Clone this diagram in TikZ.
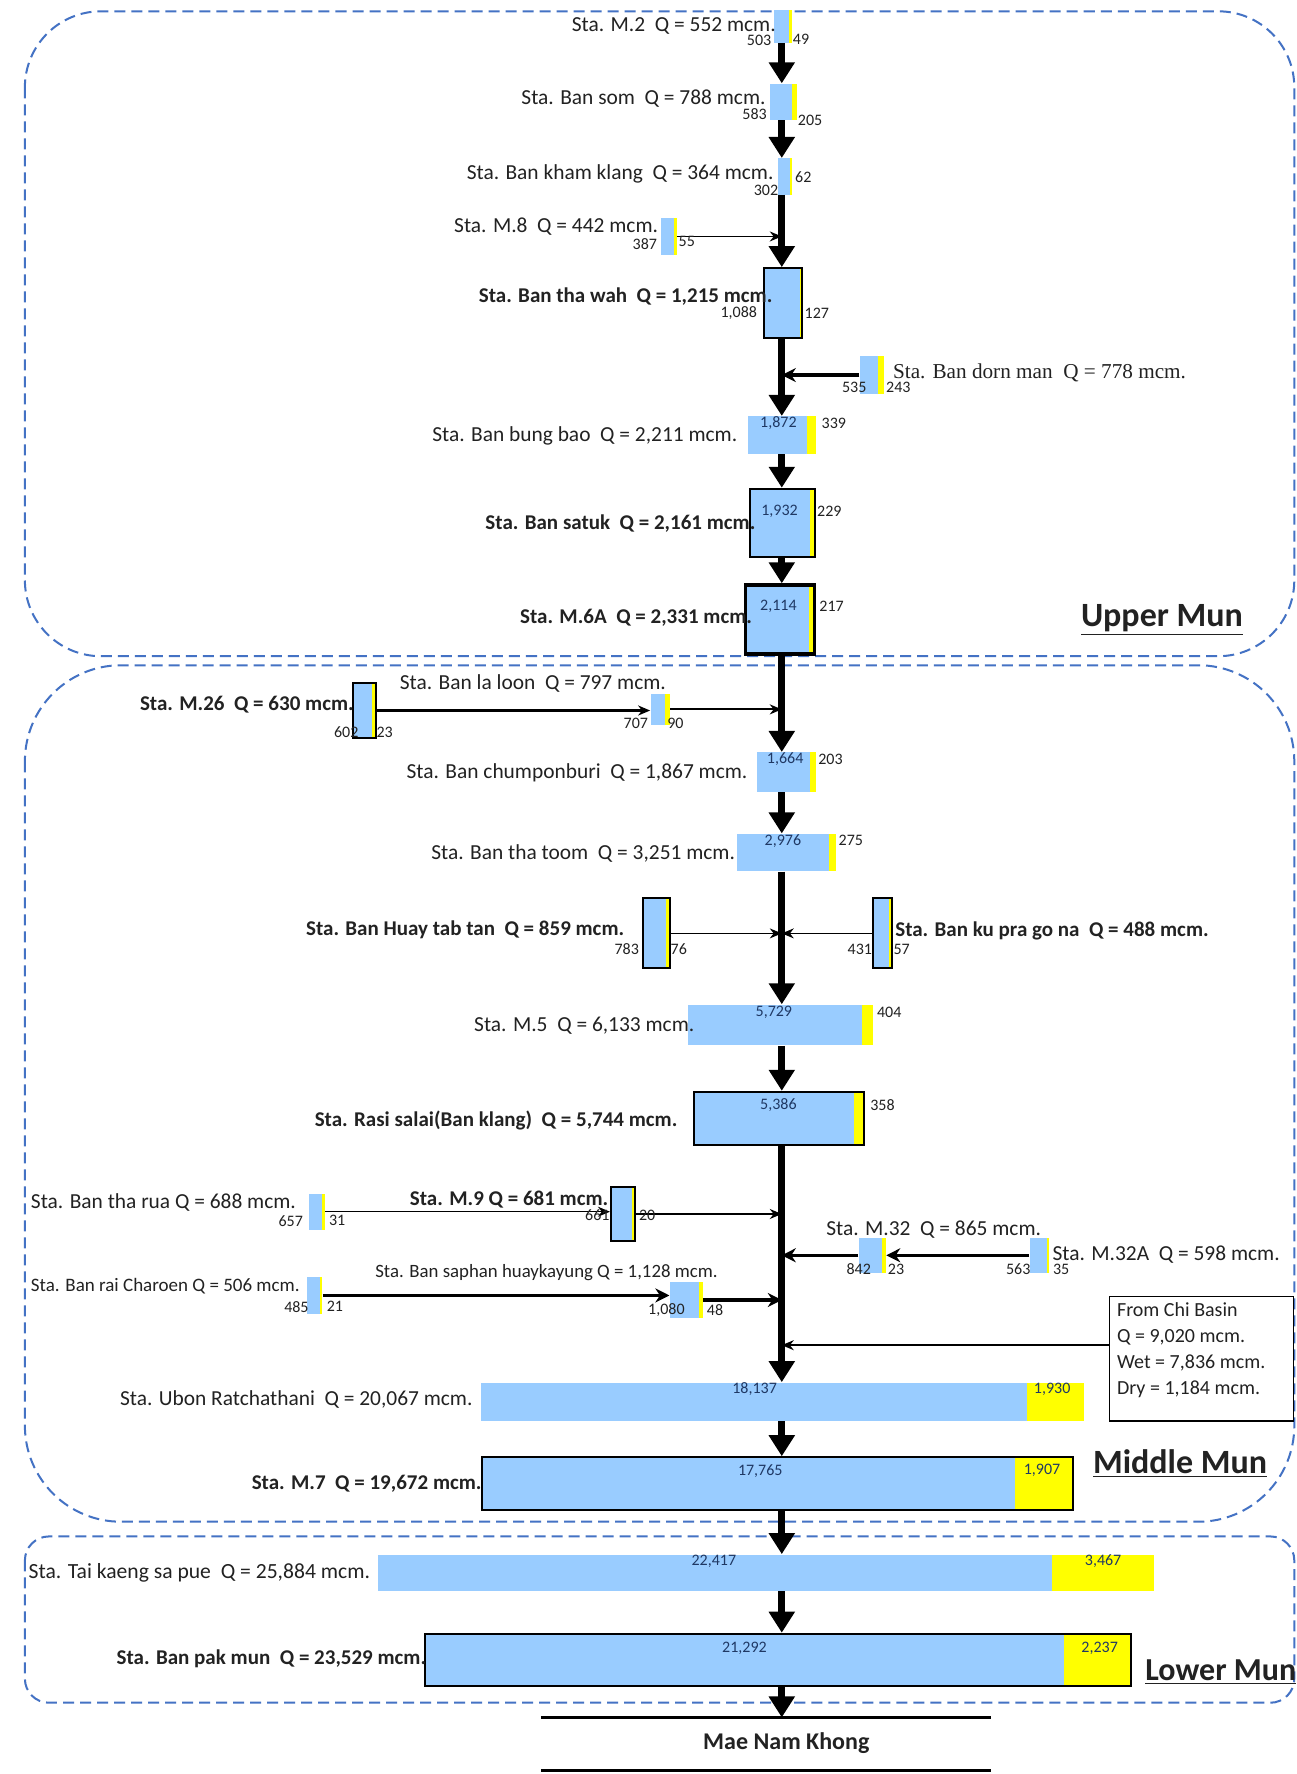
\documentclass[tikz,border=0pt]{standalone}
\usepackage{fontspec}
\setmainfont{Carlito}
\newfontfamily\serifT{Liberation Serif}
\usetikzlibrary{fit,arrows.meta}
\definecolor{bluef}{HTML}{99CCFF}
\definecolor{yellowf}{HTML}{FFFF00}
\definecolor{regblue}{HTML}{4472C4}
\definecolor{txt}{HTML}{222222}
\definecolor{innum}{HTML}{1F3864}
\tikzset{
 bfill/.style={fill=bluef},
 yfill/.style={fill=yellowf},
 spinearr/.style={line width=3.6pt,-{Triangle[width=12.5pt,length=10.5pt]}},
 thinarr/.style={line width=0.7pt,-{Stealth[width=5pt,length=6pt]}},
 medarr/.style={line width=1.6pt,-{Stealth[width=7pt,length=7pt]}},
 region/.style={draw=regblue,dash pattern=on 5.5pt off 3pt,line width=1pt},
 lab/.style={font=\fontsize{10.7}{12}\selectfont,inner sep=0pt,text=txt},
 blab/.style={font=\fontsize{10.5}{12}\selectfont\bfseries,inner sep=0pt,text=txt},
 slab/.style={font=\fontsize{10.6}{12}\selectfont\serifT,inner sep=0pt,text=txt},
 num/.style={font=\fontsize{8}{9}\selectfont,inner sep=0pt,text=txt},
 inum/.style={font=\fontsize{8}{9}\selectfont,inner sep=0pt,text=innum},
 bord/.style={draw=black,line width=1pt},
 tbord/.style={draw=black,line width=1.6pt},
 noborder/.style={},
 regtitle/.style={font=\fontsize{17}{20}\selectfont\bfseries,inner sep=0pt,text=txt},
}
% name, x blue, x yellow, x end, y top, y bottom, style
\newcommand\mkstn[7]{%
 \fill[bfill] (#2,#5) rectangle (#3,#6);
 \fill[yfill] (#3,#5) rectangle (#4,#6);
 \node[fit={(#2,#5)(#4,#6)},inner sep=0pt,#7] (#1) {};
}
\begin{document}
\begin{tikzpicture}[x=0.5655pt,y=-0.5655pt]
\useasboundingbox (0,0) rectangle (1146,1568);
\fill[white] (0,0) rectangle (1146,1568);
\coordinate (sp) at (691,0);

% regions
\draw[region,rounded corners=38pt] (22,10) rectangle (1144,580);
\draw[region,rounded corners=48pt] (22,588) rectangle (1144,1345);
\draw[region,rounded corners=12pt] (22,1358) rectangle (1144,1505);
\node[regtitle] (tUpper) at (1027,548) {\underline{Upper Mun}};
\node[regtitle] (tMiddle) at (1043,1294) {\underline{Middle Mun}};
\node[regtitle,anchor=west,font=\fontsize{16}{19}\selectfont\bfseries] (tLower) at (1012,1478) {\underline{Lower Mun}};

% stations
\mkstn{m2}{684}{697}{700}{9}{38}{noborder}
\mkstn{bansom}{681}{700}{704}{74}{106}{noborder}
\mkstn{kham}{688}{698}{700}{140}{172}{noborder}
\mkstn{m8}{584}{596}{598}{193}{225}{noborder}
\mkstn{thawah}{675}{707}{709}{237}{299}{bord}
\mkstn{dorn}{760}{776}{781}{315}{348}{noborder}
\mkstn{bungbao}{661}{713}{721}{368}{401}{noborder}
\mkstn{satuk}{663}{716}{720}{432}{492}{bord}
\mkstn{m6a}{659}{715}{720}{517}{578}{tbord}
\mkstn{m26}{312}{329}{332}{604}{652}{bord}
\mkstn{laloon}{575}{588}{592}{613}{641}{noborder}
\mkstn{chump}{669}{716}{721}{665}{700}{noborder}
\mkstn{thatoom}{651}{733}{739}{737}{770}{noborder}
\mkstn{huay}{568}{589}{592}{794}{856}{bord}
\mkstn{kupra}{772}{786}{788}{794}{856}{bord}
\mkstn{m5}{608}{762}{772}{888}{924}{noborder}
\mkstn{rasi}{613}{755}{764}{965}{1012}{bord}
\mkstn{tharua}{273}{285}{287}{1055}{1087}{noborder}
\mkstn{m9}{540}{559}{561}{1049}{1097}{bord}
\mkstn{m32}{759}{780}{783}{1094}{1125}{noborder}
\mkstn{m32a}{910}{925}{927}{1094}{1125}{noborder}
\mkstn{raich}{271}{283}{285}{1129}{1161}{noborder}
\mkstn{saphan}{592}{618}{621}{1133}{1165}{noborder}
\mkstn{ubon}{425}{908}{958}{1222}{1256}{noborder}
\mkstn{m7}{426}{897}{948}{1288}{1335}{bord}
\mkstn{taik}{334}{930}{1020}{1374}{1406}{noborder}
\mkstn{pakmun}{376}{940}{1000}{1444}{1490}{bord}

% Mae Nam Khong
\coordinate (mkL) at (478,1518);
\coordinate (mkR) at (876,1518);
\coordinate (mkL2) at (478,1565);
\coordinate (mkR2) at (876,1565);
\draw[line width=1.3pt] (mkL) -- (mkR);
\draw[line width=1.3pt] (mkL2) -- (mkR2);
\node[blab,font=\fontsize{12}{14}\selectfont\bfseries] (mekong) at (695,1541) {Mae Nam Khong};

% spine
\draw[spinearr] (sp |- m2.south) -- (sp |- bansom.north);
\draw[spinearr] (sp |- bansom.south) -- (sp |- kham.north);
\draw[spinearr] (sp |- kham.south) -- (sp |- thawah.north);
\draw[spinearr] (sp |- thawah.south) -- (sp |- bungbao.north);
\draw[spinearr] (sp |- bungbao.south) -- (sp |- satuk.north);
\draw[spinearr] (sp |- satuk.south) -- (sp |- m6a.north);
\draw[spinearr] (sp |- m6a.south) -- (sp |- chump.north);
\draw[spinearr] (sp |- chump.south) -- (sp |- thatoom.north);
\draw[spinearr] (sp |- thatoom.south) -- (sp |- m5.north);
\draw[spinearr] (sp |- m5.south) -- (sp |- rasi.north);
\draw[spinearr] (sp |- rasi.south) -- (sp |- ubon.north);
\draw[spinearr] (sp |- ubon.south) -- (sp |- m7.north);
\draw[spinearr] (sp |- m7.south) -- (sp |- taik.north);
\draw[spinearr] (sp |- taik.south) -- (sp |- pakmun.north);
\draw[spinearr] (sp |- pakmun.south) -- (sp |- mkL);

% tributaries
\draw[thinarr] (m8.east) -- (m8.east -| sp);
\draw[medarr] (dorn.west) -- (dorn.west -| sp);
\draw[thinarr,line width=1.1pt] (m26.east) -- (laloon.west |- m26.east);
\draw[thinarr,line width=1.1pt] (laloon.east) -- (laloon.east -| sp);
\draw[thinarr] (huay.east) -- (huay.east -| sp);
\draw[thinarr] (kupra.west) -- (kupra.west -| sp);
\draw[thinarr] (tharua.east) -- (m9.west |- tharua.east);
\draw[thinarr] (m9.east) -- (m9.east -| sp);
\draw[medarr] (m32a.west) -- (m32.east);
\draw[medarr] (m32.west) -- (m32.west -| sp);
\draw[medarr] (raich.east) -- (saphan.west |- raich.east);
\draw[medarr] (saphan.east) -- (saphan.east -| sp);

% Chi basin
\node[fit={(981,1146)(1143,1256)},inner sep=0pt,draw=black,line width=0.6pt] (chi) {};
\node[anchor=north west,align=left,font=\fontsize{10}{13}\selectfont,inner sep=0pt,text=txt] (chitxt) at (987,1151)
 {From Chi Basin\\Q = 9,020 mcm.\\Wet = 7,836 mcm.\\Dry = 1,184 mcm.};
\coordinate (chiA) at ([yshift=6.8pt]chi.west);
\draw[thinarr] (chiA) -- (chiA -| sp);

% labels
\node[lab,anchor=east] (l1) at (686,23) {Sta. M.2\ \ Q = 552 mcm.};
\node[lab,anchor=east] (l2) at (677,87) {Sta. Ban som\ \ Q = 788 mcm.};
\node[lab,anchor=east] (l3) at (684,154) {Sta. Ban kham klang\ \ Q = 364 mcm.};
\node[lab,anchor=east] (l4) at (582,200) {Sta. M.8\ \ Q = 442 mcm.};
\node[blab,anchor=east] (l5) at (683,262) {Sta. Ban tha wah\ \ Q = 1,215 mcm.};
\node[slab,anchor=west] (l6) at (789,330) {Sta. Ban dorn man\ \ Q = 778 mcm.};
\node[lab,anchor=east] (l7) at (652,385) {Sta. Ban bung bao\ \ Q = 2,211 mcm.};
\node[blab,anchor=east] (l8) at (668,463) {Sta. Ban satuk\ \ Q = 2,161 mcm.};
\node[blab,anchor=east] (l9) at (665,546) {Sta. M.6A\ \ Q = 2,331 mcm.};
\node[blab,anchor=east] (l10) at (313,623) {Sta. M.26\ \ Q = 630 mcm.};
\node[lab] (l11) at (471,604) {Sta. Ban la loon\ \ Q = 797 mcm.};
\node[lab,anchor=east] (l12) at (661,683) {Sta. Ban chumponburi\ \ Q = 1,867 mcm.};
\node[lab,anchor=east] (l13) at (650,754) {Sta. Ban tha toom\ \ Q = 3,251 mcm.};
\node[blab,anchor=east] (l14) at (552,822) {Sta. Ban Huay tab tan\ \ Q = 859 mcm.};
\node[blab,anchor=west] (l15) at (791,823) {Sta. Ban ku pra go na\ \ Q = 488 mcm.};
\node[lab,anchor=east] (l16) at (614,907) {Sta. M.5\ \ Q = 6,133 mcm.};
\node[blab,anchor=east] (l17) at (599,990) {Sta. Rasi salai(Ban klang)\ \ Q = 5,744 mcm.};
\node[lab,anchor=west] (l18) at (27,1063) {Sta. Ban tha rua Q = 688 mcm.};
\node[blab,anchor=east] (l19) at (538,1060) {Sta. M.9 Q = 681 mcm.};
\node[lab,anchor=west] (l20) at (730,1087) {Sta. M.32\ \ Q = 865 mcm.};
\node[lab,anchor=west] (l21) at (930,1109) {Sta. M.32A\ \ Q = 598 mcm.};
\node[lab,anchor=west,font=\fontsize{9.5}{11}\selectfont] (l22) at (27,1137) {Sta. Ban rai Charoen Q = 506 mcm.};
\node[lab,font=\fontsize{9.4}{11}\selectfont] (l23) at (483,1125) {Sta. Ban saphan huaykayung Q = 1,128 mcm.};
\node[lab,anchor=east] (l24) at (418,1237) {Sta. Ubon Ratchathani\ \ Q = 20,067 mcm.};
\node[blab,anchor=east] (l25) at (426,1311) {Sta. M.7\ \ Q = 19,672 mcm.};
\node[lab,anchor=west,font=\fontsize{10.8}{12}\selectfont] (l26) at (25,1390) {Sta. Tai kaeng sa pue\ \ Q = 25,884 mcm.};
\node[blab,anchor=east] (l27) at (377,1466) {Sta. Ban pak mun\ \ Q = 23,529 mcm.};

% numbers
\node[num] (n1a) at (671,36) {503};
\node[num] (n1b) at (708,35) {49};
\node[num] (n2a) at (667,101) {583};
\node[num] (n2b) at (716,106) {205};
\node[num] (n3a) at (677,168) {302};
\node[num] (n3b) at (710,157) {62};
\node[num] (n4a) at (570,216) {387};
\node[num] (n4b) at (607,213) {55};
\node[num] (n5a) at (653,277) {1,088};
\node[num] (n5b) at (722,277) {127};
\node[num] (n6a) at (755,342) {535};
\node[num] (n6b) at (794,342) {243};
\node[inum] (n7a) at (688,374) {1,872};
\node[num] (n7b) at (737,374) {339};
\node[inum] (n8a) at (689,452) {1,932};
\node[num] (n8b) at (733,452) {229};
\node[inum] (n9a) at (688,536) {2,114};
\node[num] (n9b) at (735,536) {217};
\node[num] (n10a) at (306,647) {602};
\node[num] (n10b) at (340,647) {23};
\node[num] (n11a) at (562,639) {707};
\node[num] (n11b) at (597,639) {90};
\node[inum] (n12a) at (694,671) {1,664};
\node[num] (n12b) at (734,671) {203};
\node[inum] (n13a) at (692,743) {2,976};
\node[num] (n13b) at (752,743) {275};
\node[num] (n14a) at (554,839) {783};
\node[num] (n14b) at (600,839) {76};
\node[num] (n15a) at (760,839) {431};
\node[num] (n15b) at (797,839) {57};
\node[inum] (n16a) at (684,895) {5,729};
\node[num] (n16b) at (786,895) {404};
\node[inum] (n17a) at (688,977) {5,386};
\node[num] (n17b) at (780,977) {358};
\node[num] (n18a) at (257,1079) {657};
\node[num] (n18b) at (298,1079) {31};
\node[num] (n19a) at (528,1074) {661};
\node[num] (n19b) at (572,1074) {20};
\node[num] (n20a) at (759,1122) {842};
\node[num] (n20b) at (792,1122) {23};
\node[num] (n21a) at (900,1122) {563};
\node[num] (n21b) at (938,1122) {35};
\node[num] (n22a) at (262,1155) {485};
\node[num] (n22b) at (296,1155) {21};
\node[num] (n23a) at (589,1158) {1,080};
\node[num] (n23b) at (632,1158) {48};
\node[inum] (n24a) at (667,1228) {18,137};
\node[inum] (n24b) at (930,1228) {1,930};
\node[inum] (n25a) at (672,1300) {17,765};
\node[inum] (n25b) at (921,1300) {1,907};
\node[inum] (n26a) at (631,1380) {22,417};
\node[inum] (n26b) at (975,1380) {3,467};
\node[inum] (n27a) at (658,1457) {21,292};
\node[inum] (n27b) at (972,1457) {2,237};
\end{tikzpicture}
\end{document}
